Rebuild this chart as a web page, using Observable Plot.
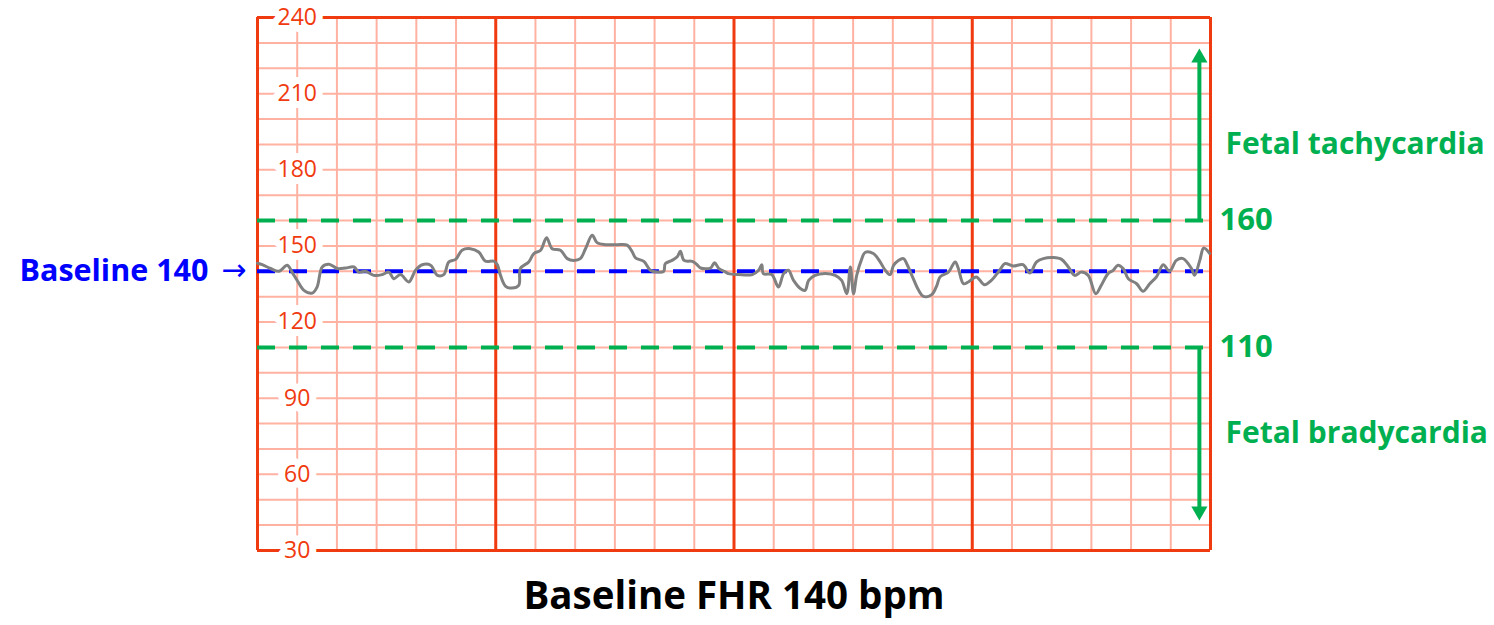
<!DOCTYPE html>
<html><head><meta charset="utf-8">
<script src="https://cdn.jsdelivr.net/npm/d3@7"></script>
<script src="https://cdn.jsdelivr.net/npm/@observablehq/plot@0.6"></script>
<style>
body{margin:0;background:#fff;font-family:"Open Sans",sans-serif;}
#title{width:1494px;box-sizing:border-box;padding-right:26px;text-align:center;font-weight:700;font-size:38.5px;line-height:50px;margin-top:9px;color:#000;}
</style></head><body>
<div id="chart"></div>
<div id="title">Baseline FHR 140 bpm</div>
<script>
// FHR trace (minutes, bpm)
const time = [0,0.12,0.33,0.54,0.75,0.87,1.00,1.17,1.38,1.50,1.63,1.80,2.01,2.22,2.43,2.55,2.72,2.93,3.14,3.31,3.43,3.60,3.81,3.98,4.15,4.36,4.53,4.69,4.82,4.99,5.15,5.36,5.57,5.74,5.95,6.04,6.12,6.25,6.41,6.58,6.62,6.83,6.96,7.13,7.28,7.42,7.63,7.80,7.97,8.13,8.26,8.43,8.55,8.76,9.06,9.31,9.44,9.52,9.73,9.90,10.07,10.23,10.27,10.44,10.57,10.65,10.74,10.95,11.07,11.16,11.41,11.51,11.62,11.79,11.86,12.12,12.46,12.62,12.70,12.74,12.95,13.12,13.25,13.37,13.50,13.67,13.79,13.88,14.04,14.30,14.55,14.71,14.84,14.93,15.01,15.09,15.22,15.30,15.51,15.68,15.81,15.93,16.02,16.14,16.27,16.35,16.48,16.65,16.77,16.98,17.11,17.19,17.40,17.57,17.65,17.78,17.90,18.10,18.31,18.48,18.69,18.82,19.03,19.28,19.45,19.62,19.79,20.04,20.25,20.42,20.58,20.75,20.92,21.11,21.25,21.42,21.55,21.67,21.80,21.93,22.14,22.30,22.47,22.64,22.81,22.97,23.14,23.31,23.52,23.60,23.73,23.83,23.98];
const fhr = [143.2,142.6,141.1,140.0,142.4,139.7,136.4,132.5,131.4,133.8,141.7,142.8,141.1,141.3,141.7,139.7,140.0,138.4,138.7,139.7,137.1,138.7,135.8,140.4,142.6,142.4,138.4,138.7,143.7,144.7,148.3,148.9,147.6,144.0,144.0,142.6,138.4,134.1,133.4,134.5,141.1,143.7,147.0,148.3,153.2,148.9,148.3,145.0,144.3,145.0,148.9,154.2,151.3,150.5,150.5,150.3,147.6,145.3,143.9,140.3,139.7,140.0,143.0,144.3,145.7,147.9,144.3,143.9,142.6,141.3,141.3,143.4,141.1,139.7,139.1,138.7,138.7,140.4,142.6,139.1,138.7,133.8,139.1,140.4,136.4,133.2,132.5,136.4,138.4,139.1,138.4,136.4,131.2,141.7,131.2,138.4,145.0,147.4,147.0,143.7,140.4,138.7,142.4,144.3,145.0,143.0,138.4,132.5,130.1,130.8,134.5,137.8,139.7,143.7,141.1,135.1,135.8,137.8,134.7,136.4,140.4,143.0,142.1,142.6,139.3,143.7,145.0,145.4,144.7,141.7,138.4,139.7,138.4,131.2,134.5,139.1,140.4,142.4,141.1,137.1,135.1,132.1,135.1,137.8,142.6,140.0,144.3,145.0,141.1,138.4,144.3,149.2,147.0];
const yTickLabels = [30,60,90,120,150,180,210,240];
const gridX = [0,1,2,3,4,5,6,7,8,9,10,11,12,13,14,15,16,17,18,19,20,21,22,23,24];
const majorX = [0,6,12,18,24];
const gridY = [30,40,50,60,70,80,90,100,110,120,130,140,150,160,170,180,190,200,210,220,230,240];
const frameY = [30,240];
const baseline = [140];
const limits = [160,110];
const zoneLabels = ["Fetal tachycardia","Fetal bradycardia"];
const zoneLabelY = [190,76];
const arrowX = 23.72;
const arrowEnds = [{y1:160,y2:224.5,tip:224.1,rot:0},{y1:110,y2:46,tip:45.5,rot:180}];

const trace = time.map((t,i)=>({t, v: fhr[i]}));
const RED = "#f03a10", LIGHT = "#ffb2a2", GREEN = "#00b050", BLUE = "#0000ff", GREY = "#808080";
const FONT = "Open Sans, sans-serif";

const chart = Plot.plot({
  width: 1494, height: 560,
  marginLeft: 257, marginRight: 284, marginTop: 17, marginBottom: 10,
  x: {domain: [0,24], axis: null},
  y: {domain: [30,240], axis: null},
  style: {fontFamily: FONT, background: "#fff", overflow: "visible"},
  marks: [
    Plot.ruleX(gridX, {stroke: LIGHT, strokeWidth: 2}),
    Plot.ruleY(gridY, {stroke: LIGHT, strokeWidth: 2}),
    Plot.ruleX(majorX, {stroke: RED, strokeWidth: 3}),
    Plot.ruleY(frameY, {stroke: RED, strokeWidth: 3}),
    Plot.ruleY(limits, {stroke: GREEN, strokeWidth: 4, strokeDasharray: "18,14"}),
    Plot.text(yTickLabels, {x: 1, y: d=>d, text: d=>String(d), fill: RED, stroke: "#ffffff", strokeWidth: 14, strokeOpacity: 1, paintOrder: "stroke", fontSize: 23, fontFamily: FONT}),
    Plot.ruleY(baseline, {stroke: BLUE, strokeWidth: 4, strokeDasharray: "18,14"}),
    Plot.line(trace, {x: "t", y: "v", stroke: GREY, strokeWidth: 3, curve: "catmull-rom"}),
    Plot.link(arrowEnds, {x1: arrowX, x2: arrowX, y1: "y1", y2: "y2", stroke: GREEN, strokeWidth: 4}),
    Plot.dot(arrowEnds, {x: arrowX, y: "tip", symbol: "triangle", r: 6, fill: GREEN, rotate: "rot"}),
    Plot.text(baseline, {x: 0, y: d=>d, text: d=>"Baseline " + d, dx: -49, textAnchor: "end", fill: BLUE, fontWeight: 700, fontSize: 30.5, fontFamily: FONT}),
    Plot.text(baseline, {x: 0, y: d=>d, text: ["→"], dx: -11, dy: -1, textAnchor: "end", fill: BLUE, fontSize: 30, fontFamily: "DejaVu Sans, sans-serif"}),
    Plot.text(limits, {x: 24, y: d=>d, text: d=>String(d), dx: 9, textAnchor: "start", fill: GREEN, fontWeight: 700, fontSize: 31, fontFamily: FONT}),
    Plot.text(zoneLabels, {x: 24, y: (d,i)=>zoneLabelY[i], text: d=>d, dx: 15, textAnchor: "start", fill: GREEN, fontWeight: 700, fontSize: 30, fontFamily: FONT})
  ]
});
document.getElementById("chart").appendChild(chart);
</script>
</body></html>
